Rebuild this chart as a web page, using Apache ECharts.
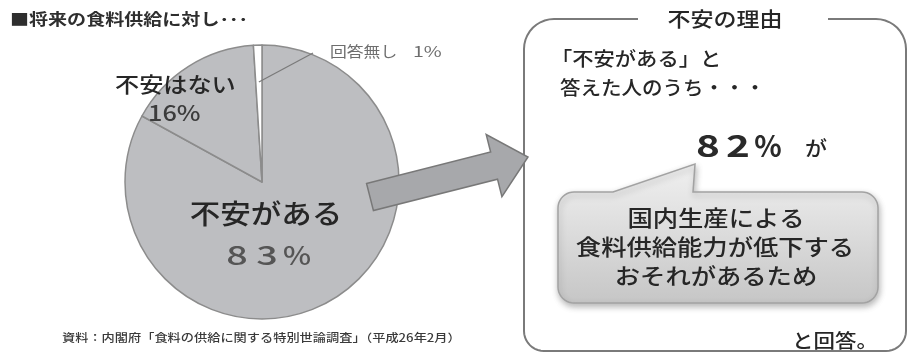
<!DOCTYPE html>
<html>
<head>
<meta charset="utf-8">
<title>将来の食料供給に対する意識</title>
<script src="https://cdn.jsdelivr.net/npm/echarts@6/dist/echarts.min.js"></script>
<style>
  html, body { margin: 0; padding: 0; background: #ffffff; }
  #chart { width: 910px; height: 354px; }
</style>
</head>
<body>
<div id="chart"></div>
<script>
// Survey answers: "do you feel anxious about the future food supply?"
const categories = ['不安がある', '不安はない', '回答無し'];
const shares = [83, 16, 1];

// Among those who answered "anxious", share giving the main reason
const reasonShare = 82;
const reasonLines = ['国内生産による', '食料供給能力が低下する', 'おそれがあるため'];

const titleText = '■将来の食料供給に対し･･･';
const panelTitle = '不安の理由';
const panelIntro = ['「不安がある」と', '答えた人のうち・・・'];
const panelTail = 'と回答。';
const sourceText = '資料：内閣府「食料の供給に関する特別世論調査」（平成26年2月）';

const FONT = '"Noto Sans CJK JP", "Noto Sans CJK SC", sans-serif';
const PIE_CENTER = [262, 182];
const PIE_RADIUS = 137;

function text(x, y, str, size, o) {
  o = o || {};
  return {
    type: 'text', x: x, y: y, scaleX: o.scaleX || 1.15, z: o.z || 10,
    style: {
      text: str, fontSize: size, fontFamily: FONT,
      fontWeight: o.weight || 500, fill: o.color || '#262626',
      align: o.align || 'left', verticalAlign: 'middle'
    }
  };
}

// wide-tracked figure: each character centred on its own slot;
// the percent sign gets its own horizontal stretch
function tracked(x0, y, str, size, pitch, o, pctScale) {
  return Array.from(String(str)).map((ch, i) =>
    text(x0 + i * pitch, y, ch, size,
         Object.assign({ align: 'center' }, o, ch === '%' ? { scaleX: pctScale } : {})));
}

// points along a rounded rectangle (optionally with an upward tail on the top edge)
function arcPts(cx, cy, r, a0, a1, out) {
  const n = 10;
  for (let i = 0; i <= n; i++) {
    const a = (a0 + (a1 - a0) * i / n) * Math.PI / 180;
    out.push([cx + r * Math.cos(a), cy + r * Math.sin(a)]);
  }
}

function bubblePoints(x0, y0, x1, y1, r, tail) {
  const p = [];
  p.push([x0 + r, y0]);
  tail.forEach(t => p.push(t));
  p.push([x1 - r, y0]);
  arcPts(x1 - r, y0 + r, r, -90, 0, p);
  arcPts(x1 - r, y1 - r, r, 0, 90, p);
  arcPts(x0 + r, y1 - r, r, 90, 180, p);
  arcPts(x0 + r, y0 + r, r, 180, 270, p);
  return p;
}

function panelPoints(x0, y0, x1, y1, rt, rb, gapL, gapR) {
  const p = [[gapR, y0], [x1 - rt, y0]];
  arcPts(x1 - rt, y0 + rt, rt, -90, 0, p);
  arcPts(x1 - rb, y1 - rb, rb, 0, 90, p);
  arcPts(x0 + rb, y1 - rb, rb, 90, 180, p);
  arcPts(x0 + rt, y0 + rt, rt, 180, 270, p);
  p.push([gapL, y0]);
  return p;
}

// block arrow from tail centre to tip
function arrowPoints(tx, ty, px, py, shaftHalf, headHalf, headLen) {
  const dx = px - tx, dy = py - ty, L = Math.hypot(dx, dy);
  const ux = dx / L, uy = dy / L, nx = -uy, ny = ux;
  const loc = [[0, -shaftHalf], [L - headLen, -shaftHalf], [L - headLen, -headHalf], [L, 0],
               [L - headLen, headHalf], [L - headLen, shaftHalf], [0, shaftHalf]];
  return loc.map(([s, t]) => [tx + s * ux + t * nx, ty + s * uy + t * ny]);
}

// leader line for the smallest slice, starting inside it at its mid angle
const total = shares.reduce((a, b) => a + b, 0);
const before = shares.slice(0, 2).reduce((a, b) => a + b, 0);
const midFrac = (before + shares[2] / 2) / total;
const midAng = midFrac * 2 * Math.PI;
const leadStart = [PIE_CENTER[0] + 100 * Math.sin(midAng), PIE_CENTER[1] - 100 * Math.cos(midAng)];

const chart = echarts.init(document.getElementById('chart'), null, { renderer: 'canvas' });

chart.setOption({
  backgroundColor: '#ffffff',
  animation: false,
  series: [{
    type: 'pie',
    center: PIE_CENTER,
    radius: PIE_RADIUS,
    startAngle: 90,
    clockwise: true,
    silent: true,
    label: { show: false },
    labelLine: { show: false },
    itemStyle: { borderColor: '#8c8c8c', borderWidth: 1.5 },
    data: categories.map((name, i) => ({
      name: name,
      value: shares[i],
      itemStyle: { color: i === 2 ? '#ffffff' : '#bdbec1' }
    }))
  }],
  graphic: [
    text(10, 19, titleText, 16, { weight: 'bold', scaleX: 1.19, color: '#2e2e2e' }),

    // pie annotations
    { type: 'polyline', z: 9, shape: { points: [leadStart, [313, 53]] },
      style: { stroke: '#7a7a7a', lineWidth: 1.2, fill: null } },
    text(330, 51, categories[2], 15, { color: '#6e6e6e', scaleX: 1.12, weight: 'normal' }),
    text(413, 51, shares[2] + '%', 15, { color: '#6e6e6e', scaleX: 1.3, weight: 'normal' }),
    text(115, 84, categories[1], 21, { scaleX: 1.15 }),
    text(148, 113, shares[1] + '%', 22, { scaleX: 1.15, color: '#3c3c3c' }),
    text(266, 214, categories[0], 27, { align: 'center', scaleX: 1.13 }),
    ...tracked(237, 255, shares[0] + '%', 26, 30, { scaleX: 1.45, color: '#555555' }, 1.15),

    // arrow pointing to the reason panel
    { type: 'polygon', z: 8,
      shape: { points: arrowPoints(370, 197, 528, 157, 14, 32, 35) },
      style: { fill: '#a7a8ab', stroke: '#787878', lineWidth: 1.5 } },

    // reason panel
    { type: 'polyline', z: 5,
      shape: { points: panelPoints(524, 19, 906, 351, 30, 20, 638, 828) },
      style: { stroke: '#7a7a7a', lineWidth: 2, fill: null } },
    text(725, 19, panelTitle, 20, { align: 'center', scaleX: 1.15 }),
    text(551, 59, panelIntro[0], 19, { scaleX: 1.12 }),
    text(560, 88, panelIntro[1], 19, { scaleX: 1.08 }),
    ...tracked(708, 146, reasonShare + '%', 30, 30, { weight: 'bold', scaleX: 1.35, color: '#2a2a2a' }, 0.95),
    text(805, 148, 'が', 20, { scaleX: 1.1 }),

    { type: 'polygon', z: 6,
      shape: { points: bubblePoints(558, 192, 878, 303, 16, [[613, 192], [695, 164], [693, 192]]) },
      style: {
        fill: { type: 'linear', x: 0, y: 0, x2: 0, y2: 1,
                colorStops: [{ offset: 0, color: '#f0f0f0' }, { offset: 0.35, color: '#e2e2e2' }, { offset: 1, color: '#c6c6c6' }] },
        stroke: '#a2a2a2', lineWidth: 1.5,
        shadowBlur: 6, shadowColor: 'rgba(0,0,0,0.28)', shadowOffsetX: 1, shadowOffsetY: 3
      } },
    text(716, 218, reasonLines[0], 22, { align: 'center', scaleX: 1.15 }),
    text(715, 247, reasonLines[1], 22, { align: 'center', scaleX: 1.15 }),
    text(716, 276, reasonLines[2], 22, { align: 'center', scaleX: 1.15 }),
    text(792, 341, panelTail, 19, { scaleX: 1.13 }),

    text(62, 338, sourceText, 11, { scaleX: 1.2, color: '#3a3a3a' })
  ]
});
</script>
</body>
</html>
